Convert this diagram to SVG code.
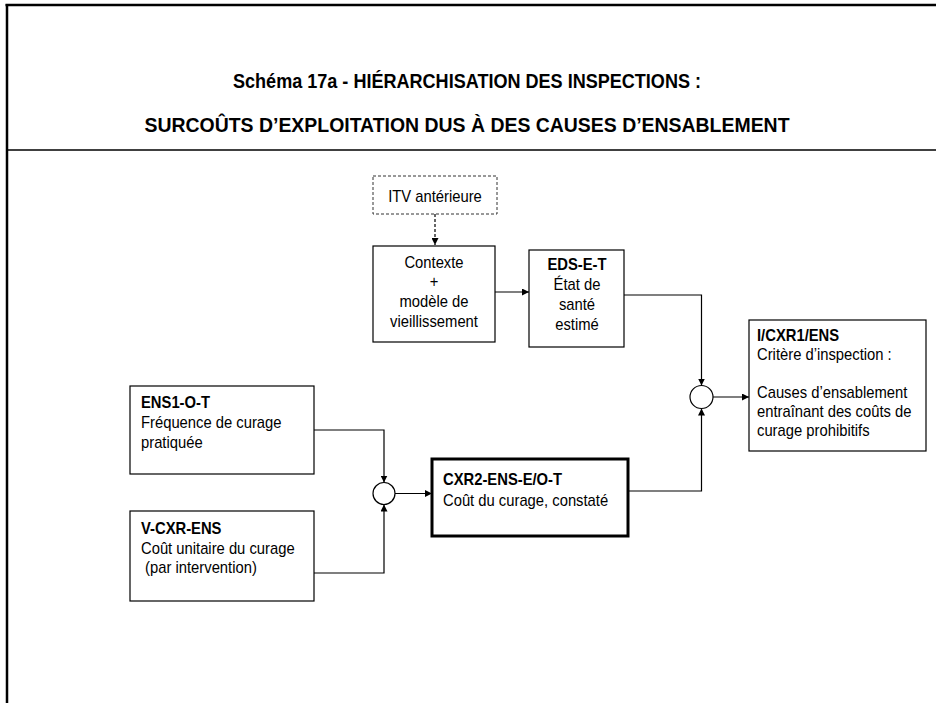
<svg xmlns="http://www.w3.org/2000/svg" width="936" height="703" viewBox="0 0 936 703">
<style>
text{font-family:"Liberation Sans",Arial,sans-serif;font-size:17px;fill:#000}
.b{font-weight:bold}
.t{font-weight:bold;font-size:20px}
.c{text-anchor:middle}
.box{fill:#fff;stroke:#000;stroke-width:1.2}
.thick{fill:#fff;stroke:#000;stroke-width:3}
.dash{fill:#fff;stroke:#333;stroke-width:1;stroke-dasharray:3,2}
.ln{fill:none;stroke:#000;stroke-width:1.2}
.dl{fill:none;stroke:#000;stroke-width:1.2;stroke-dasharray:3,2}
.circ{fill:#fff;stroke:#000;stroke-width:1.2}
</style>
<defs>
<marker id="ah" viewBox="0 0 10 10" refX="10" refY="5" markerWidth="7" markerHeight="7" markerUnits="userSpaceOnUse" orient="auto">
<path d="M0,0 L10,5 L0,10 z" fill="#000"/>
</marker>
</defs>
<rect width="936" height="703" fill="#fff"/>
<g id="frame">
<line x1="5.5" y1="5" x2="936" y2="5" stroke="#000" stroke-width="2.5"/>
<line x1="7" y1="4" x2="7" y2="703" stroke="#000" stroke-width="2.5"/>
<line x1="7" y1="150" x2="936" y2="150" stroke="#000" stroke-width="1.5"/>
<text class="t c" x="467" y="88" textLength="468" lengthAdjust="spacingAndGlyphs">Schéma 17a - HIÉRARCHISATION DES INSPECTIONS :</text>
<text class="t c" x="467" y="132" textLength="645" lengthAdjust="spacingAndGlyphs">SURCOÛTS D’EXPLOITATION DUS À DES CAUSES D’ENSABLEMENT</text>
</g>
<g id="connectors">
<line class="dl" x1="435" y1="214" x2="435" y2="245" marker-end="url(#ah)"/>
<line class="ln" x1="495" y1="292" x2="529" y2="292" marker-end="url(#ah)"/>
<polyline class="ln" points="624,295 701.5,295 701.5,385.5" marker-end="url(#ah)"/>
<polyline class="ln" points="628,491 701.5,491 701.5,408.5" marker-end="url(#ah)"/>
<line class="ln" x1="713" y1="397" x2="749" y2="397" marker-end="url(#ah)"/>
<polyline class="ln" points="314,430 384,430 384,482.5" marker-end="url(#ah)"/>
<polyline class="ln" points="314,573 384,573 384,504.5" marker-end="url(#ah)"/>
<line class="ln" x1="395" y1="493.5" x2="432" y2="493.5" marker-end="url(#ah)"/>
</g>
<g id="itv">
<rect class="dash" x="373" y="176" width="124" height="38"/>
<text class="c" transform="matrix(0.87 0 0 1 435 202)">ITV antérieure</text>
</g>
<g id="contexte">
<rect class="box" x="373" y="246" width="122" height="96"/>
<text class="c" transform="matrix(0.87 0 0 1 434 268)">Contexte</text>
<text class="c" transform="matrix(0.87 0 0 1 434 287)">+</text>
<text class="c" transform="matrix(0.87 0 0 1 434 307)">modèle de</text>
<text class="c" transform="matrix(0.87 0 0 1 434 327)">vieillissement</text>
</g>
<g id="eds">
<rect class="box" x="529" y="250" width="95" height="97"/>
<text class="c b" transform="matrix(0.87 0 0 1 577 270)">EDS-E-T</text>
<text class="c" transform="matrix(0.87 0 0 1 577 290)">État de</text>
<text class="c" transform="matrix(0.87 0 0 1 577 310)">santé</text>
<text class="c" transform="matrix(0.87 0 0 1 577 330)">estimé</text>
</g>
<g id="sum1">
<circle class="circ" cx="701.5" cy="397" r="11.5"/>
</g>
<g id="icxr1">
<rect class="box" x="749" y="320" width="177" height="131"/>
<text class="b" transform="matrix(0.87 0 0 1 757 341)">I/CXR1/ENS</text>
<text transform="matrix(0.87 0 0 1 757 360)">Critère d’inspection :</text>
<text transform="matrix(0.87 0 0 1 757 398)">Causes d’ensablement</text>
<text transform="matrix(0.87 0 0 1 757 417)">entraînant des coûts de</text>
<text transform="matrix(0.87 0 0 1 757 436)">curage prohibitifs</text>
</g>
<g id="ens1">
<rect class="box" x="130" y="386" width="184" height="88"/>
<text class="b" transform="matrix(0.87 0 0 1 141 408)">ENS1-O-T</text>
<text transform="matrix(0.87 0 0 1 141 428)">Fréquence de curage</text>
<text transform="matrix(0.87 0 0 1 141 448)">pratiquée</text>
</g>
<g id="sum2">
<circle class="circ" cx="384" cy="493.5" r="11"/>
</g>
<g id="vcxr">
<rect class="box" x="130" y="511" width="184" height="90"/>
<text class="b" transform="matrix(0.87 0 0 1 141 534)">V-CXR-ENS</text>
<text transform="matrix(0.87 0 0 1 141 554)">Coût unitaire du curage</text>
<text transform="matrix(0.87 0 0 1 141 573)" xml:space="preserve"> (par intervention)</text>
</g>
<g id="cxr2">
<rect class="thick" x="432" y="459" width="196" height="77"/>
<text class="b" transform="matrix(0.87 0 0 1 443 485)">CXR2-ENS-E/O-T</text>
<text transform="matrix(0.87 0 0 1 443 506)">Coût du curage, constaté</text>
</g>
</svg>
